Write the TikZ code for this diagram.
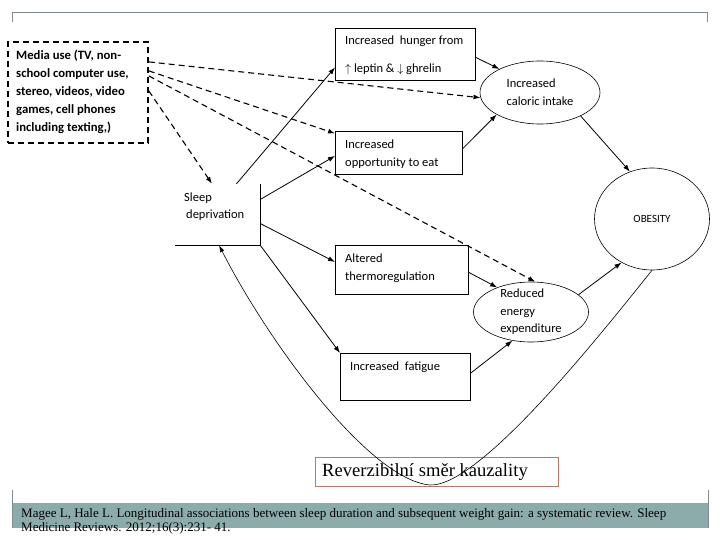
\documentclass[tikz,border=0pt]{standalone}
\usepackage{fontspec}
\setmainfont{Carlito}
\newfontfamily\seriffont{Liberation Serif}
\usetikzlibrary{arrows.meta,shapes.geometric,calc}
\definecolor{framegray}{RGB}{125,140,140}
\definecolor{bandteal}{RGB}{140,172,172}
\definecolor{revred}{RGB}{185,120,105}
\begin{document}
\begin{tikzpicture}[x=1pt,y=-1pt,
  box/.style={draw, line width=0.9pt, rectangle, anchor=north west, inner sep=0pt},
  txt/.style={anchor=west, align=left, inner sep=0pt, font=\fontsize{12.5}{18}\selectfont},
  ell/.style={draw, ellipse, line width=0.6pt, inner sep=0pt, align=left,
    font=\fontsize{12.5}{18}\selectfont},
  arr/.style={-{Latex[length=7pt,width=5pt]}, line width=0.8pt},
  dsh/.style={arr, dash pattern=on 6pt off 4pt, line width=1.1pt}]
\useasboundingbox (0,0) rectangle (720,540);

% frame
\draw[framegray, line width=1pt] (12,22) -- (12,13) -- (707,13) -- (707,22);
\fill[bandteal] (12,503) rectangle (708,528);
\draw[framegray, line width=1pt] (12,490) -- (12,528);
\draw[framegray, line width=1pt] (708,490) -- (708,528);

% media box
\node[box, line width=1.8pt, dash pattern=on 6pt off 4pt, minimum width=140pt,
  minimum height=101pt] (media) at (7,41) {};
\node[txt, font=\bfseries\fontsize{12.7}{18}\selectfont] (mediatxt) at ([xshift=9pt,yshift=1pt]media.west)
  {Media use (TV, non-\\school computer use,\\stereo, videos, video\\games, cell phones\\including texting,)};

% sleep deprivation
\node[minimum width=85pt, minimum height=61pt, inner sep=0pt] (sleep) at (217.5,214.5) {};
\node[anchor=north west, align=left, inner sep=0pt, font=\fontsize{12.5}{17}\selectfont]
  (sleeptxt) at (184,193) {Sleep\\\hspace{2pt}deprivation};
\draw[line width=0.9pt] (sleep.north east) -- (sleep.south east) -- (sleep.south west);

% boxes
\node[box, minimum width=140pt, minimum height=52pt] (hunger) at (335,28) {};
\node[txt, font=\fontsize{12.5}{28}\selectfont] (huntxt) at ([xshift=10pt,yshift=-1pt]hunger.west)
  {Increased\ \ hunger from\\$\uparrow$ leptin \& $\downarrow$ ghrelin};
\node[box, minimum width=127pt, minimum height=43pt] (opp) at (335,131) {};
\node[txt] (opptxt) at ([xshift=10pt,yshift=-1pt]opp.west) {Increased\\opportunity to eat};
\node[box, minimum width=133pt, minimum height=49pt] (thermo) at (335,245) {};
\node[txt] (thermotxt) at ([xshift=10pt,yshift=2pt]thermo.west) {Altered\\thermoregulation};
\node[box, minimum width=130pt, minimum height=47pt] (fatigue) at (340,353) {};
\node[txt] (fattxt) at ([xshift=10pt,yshift=10pt]fatigue.west) {Increased\ \ fatigue};

% ellipses
\node[ell, minimum width=120pt, minimum height=63pt] (caloric) at (540,92.5)
  {Increased\\caloric intake};
\node[ell, minimum width=115pt, minimum height=60pt, inner ysep=-4pt,
  font=\fontsize{12.5}{17.5}\selectfont] (reduced) at (531,312)
  {Reduced\\energy\\expenditure};
\node[ell, minimum width=115pt, minimum height=102pt, font=\fontsize{11}{12}\selectfont]
  (obesity) at (652,219) {OBESITY};

% reverse causality label
\node[draw=revred, line width=0.8pt, rectangle, anchor=north west, minimum width=243pt,
  minimum height=29pt, inner sep=0pt] (rev) at (315,457) {};
\node[anchor=west, inner sep=0pt, font=\seriffont\fontsize{18.6}{20}\selectfont]
  (revtxt) at ([xshift=7pt]rev.west) {Reverzibilní směr kauzality};

% citation
\node[anchor=north west, align=left, inner sep=0pt, font=\seriffont\fontsize{13}{14}\selectfont]
  (cite) at (21,508)
  {Magee L, Hale L. Longitudinal associations between sleep duration and subsequent weight gain: a systematic review. Sleep\\Medicine Reviews. 2012;16(3):231- 41.};

% solid arrows
\draw[arr] ([xshift=19pt]sleep.north) -- ([yshift=-13pt]hunger.west);
\draw[arr] ([yshift=15pt]sleep.east) -- ([yshift=-3pt]opp.west);
\draw[arr] ([yshift=-9pt]sleep.east) -- ([yshift=8pt]thermo.west);
\draw[arr] (sleep.south east) -- (fatigue.north west);
\draw[arr] ([yshift=-3pt]hunger.east) -- (caloric.150);
\draw[arr] ([yshift=4.5pt]opp.east) -- (caloric.207);
\draw[arr] (caloric.-30) -- (obesity.115);
\draw[arr] ([yshift=-2.5pt]thermo.east) -- (reduced.144);
\draw[arr] ([yshift=4pt]fatigue.east) -- (reduced.237);
\draw[arr] (reduced.20) -- (obesity.235);

% dashed arrows from media
\draw[dsh] ([yshift=30.5pt]media.east) -- (caloric.185);
\draw[dsh] ([yshift=21.5pt]media.east) -- ([yshift=19.5pt]opp.west);
\draw[dsh] ([yshift=16.5pt]media.east) -- (reduced.82);
\draw[dsh] ([yshift=1.5pt]media.east) -- ([xshift=-5.5pt]sleep.north);

% reverse causality curve
\coordinate (bottom) at (430,485);
\draw[-{Latex[length=7pt,width=4.5pt]}, line width=0.6pt] (obesity.south)
  .. controls (600,335) and (480,487) .. (bottom)
  .. controls (370,480) and (270,345) .. ([xshift=1.5pt]sleep.south);
\end{tikzpicture}
\end{document}
